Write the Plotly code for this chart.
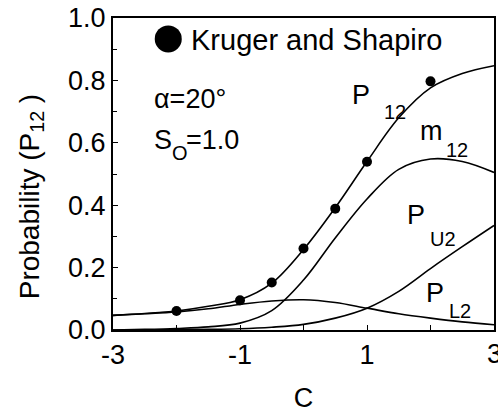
import plotly.graph_objects as go

# Data
c_grid = [-3, -2.5, -2, -1.5, -1, -0.5, 0, 0.5, 1, 1.5, 2, 2.5, 3]
p12 = [0.047, 0.053, 0.061, 0.076, 0.097, 0.150, 0.258, 0.392, 0.540, 0.680, 0.776, 0.822, 0.847]
m12 = [0.000, 0.002, 0.005, 0.010, 0.022, 0.062, 0.160, 0.295, 0.420, 0.515, 0.548, 0.540, 0.505]
pu2 = [0.000, 0.000, 0.001, 0.002, 0.004, 0.009, 0.018, 0.038, 0.070, 0.124, 0.197, 0.267, 0.335]
pl2 = [0.047, 0.052, 0.058, 0.068, 0.082, 0.093, 0.097, 0.088, 0.070, 0.052, 0.038, 0.026, 0.017]

ks_c = [-2, -1, -0.5, 0, 0.5, 1, 2]
ks_p = [0.061, 0.095, 0.152, 0.261, 0.389, 0.539, 0.797]

x_tickvals = [-3, -2, -1, 0, 1, 2, 3]
x_ticktext = ["-3", "", "-1", "", "1", "", ""]
y_tickvals = [0.0, 0.2, 0.4, 0.6, 0.8, 1.0]
y_ticktext = ["0.0", "0.2", "0.4", "0.6", "0.8", "1.0"]

FONT = "Liberation Sans, Arial, sans-serif"
BIG = 27
SUB = 20
line_style = dict(color="black", width=1.6, shape="spline", smoothing=1.0)

fig = go.Figure()
for ys in (p12, m12, pu2, pl2):
    fig.add_trace(go.Scatter(x=c_grid, y=ys, mode="lines", line=line_style,
                             showlegend=False, hoverinfo="skip"))
fig.add_trace(go.Scatter(x=ks_c, y=ks_p, mode="markers",
                         marker=dict(color="black", size=10), showlegend=False))
# legend marker
fig.add_trace(go.Scatter(x=[-2.13], y=[0.933], mode="markers",
                         marker=dict(color="black", size=27), showlegend=False))

fig.update_layout(
    width=498, height=413,
    margin=dict(l=113, r=2, t=18, b=81),
    paper_bgcolor="white", plot_bgcolor="white",
    font=dict(family=FONT, color="black", size=BIG),
)
fig.update_xaxes(
    range=[-3, 3], tickvals=x_tickvals, ticktext=x_ticktext,
    ticks="inside", ticklen=5, tickwidth=1.2, tickcolor="black",
    showline=True, linecolor="black", linewidth=2, mirror=True,
    showgrid=False, zeroline=False,
    tickfont=dict(size=BIG, family=FONT),
    title=dict(text="C", font=dict(size=BIG, family=FONT), standoff=22),
)
fig.update_yaxes(
    range=[0, 1.0], tickvals=y_tickvals, ticktext=y_ticktext,
    ticks="inside", ticklen=5, tickwidth=1.2, tickcolor="black",
    minor=dict(tickvals=[0.1, 0.3, 0.5, 0.7, 0.9], ticks="inside", ticklen=4, tickcolor="black"),
    showline=True, linecolor="black", linewidth=2, mirror=True,
    showgrid=False, zeroline=False,
    tickfont=dict(size=BIG, family=FONT),
)

def txt(x, y, s, size=BIG, anchor="left", angle=0):
    fig.add_annotation(x=x, y=y, xref="paper", yref="paper", text=s, showarrow=False,
                       xanchor=anchor, yanchor="middle", textangle=angle,
                       font=dict(size=size, family=FONT, color="black"))

def px(xp):
    return (xp - 113) / 383.0

def py(yp):
    return (332 - yp) / 314.0

# y-axis title
txt(px(31), py(198), "Probability (P<sub>12</sub> )", size=28, anchor="center", angle=-90)

# right-most x tick label (partly cut off at the page edge, as in the reference)
txt(1.0, py(356), "3", anchor="center")

txt(px(189), py(40), "Kruger and Shapiro", size=29)
txt(px(152), py(100), "α=20°")
txt(px(152), py(141), "S")
txt(px(170), py(154), "O", size=SUB)
txt(px(184), py(141), "=1.0")
txt(px(351), py(95), "P")
txt(px(383), py(113), "12", size=SUB)
txt(px(433), py(132), "m", anchor="center")
txt(px(446), py(151), "12", size=SUB)
txt(px(418), py(216), "P", anchor="center")
txt(px(430), py(240), "U2", size=SUB)
txt(px(437), py(295), "P", anchor="center")
txt(px(449), py(313), "L2", size=SUB)

fig.write_html("out.html")
